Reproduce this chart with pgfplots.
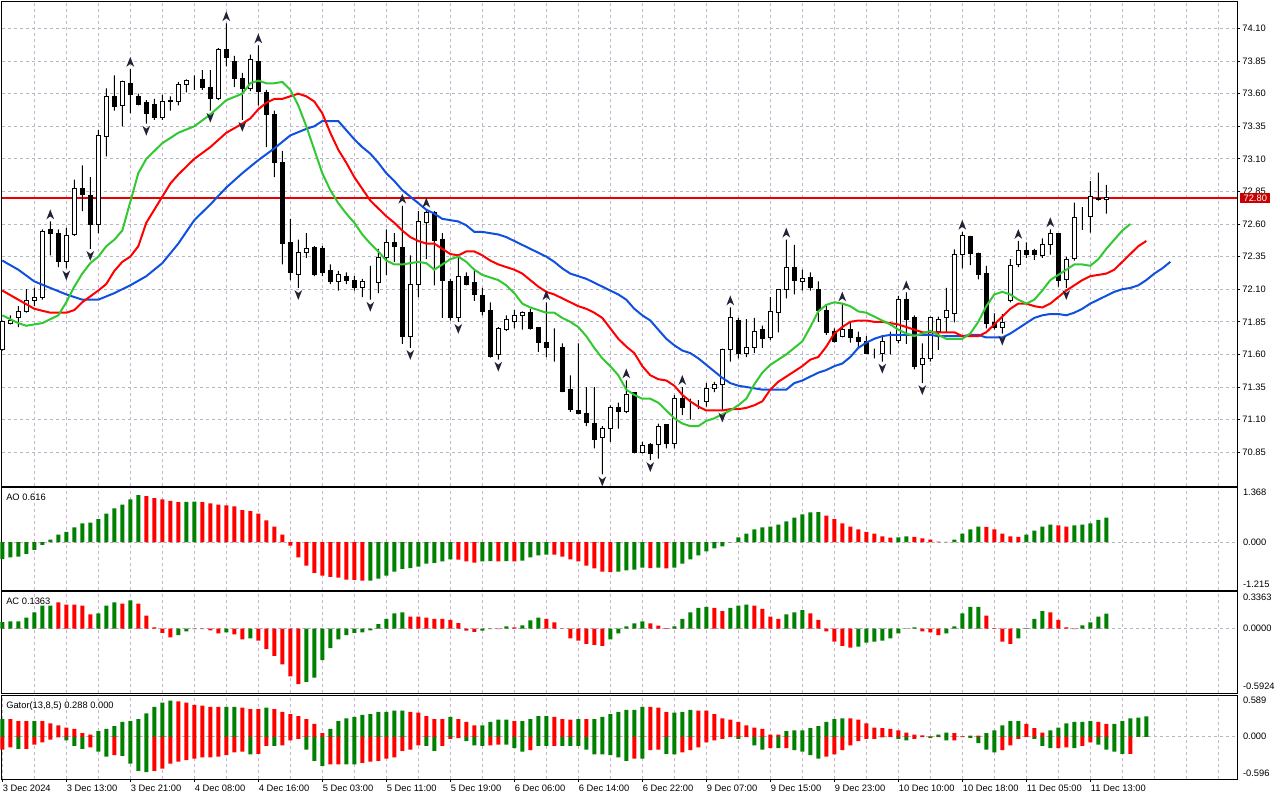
\documentclass[border=0pt]{standalone}
\usepackage{pgfplots}
\usepackage{pgfplotstable}
\pgfplotsset{compat=1.18}
\usepackage{fontspec}
\setmainfont{Liberation Sans}
\definecolor{jawc}{RGB}{16,80,224}
\definecolor{teethc}{RGB}{255,0,0}
\definecolor{lipsc}{RGB}{50,200,50}
\definecolor{hgreen}{RGB}{0,128,0}
\definecolor{hred}{RGB}{255,0,0}
\definecolor{vgrid}{RGB}{200,178,200}
\definecolor{hgrid}{RGB}{178,184,200}
\definecolor{fract}{RGB}{35,35,55}
\definecolor{pricebox}{RGB}{200,0,0}
\definecolor{priceline}{RGB}{235,0,0}

\pgfdeclareplotmark{fup}{%
  \pgfpathmoveto{\pgfqpoint{0pt}{9pt}}%
  \pgfpathlineto{\pgfqpoint{2.9pt}{1.6pt}}%
  \pgfpathlineto{\pgfqpoint{0pt}{3.8pt}}%
  \pgfpathlineto{\pgfqpoint{-2.9pt}{1.6pt}}%
  \pgfpathclose
  \pgfusepathqfill}
\pgfdeclareplotmark{fdn}{%
  \pgfpathmoveto{\pgfqpoint{0pt}{-9pt}}%
  \pgfpathlineto{\pgfqpoint{2.9pt}{-1.6pt}}%
  \pgfpathlineto{\pgfqpoint{0pt}{-3.8pt}}%
  \pgfpathlineto{\pgfqpoint{-2.9pt}{-1.6pt}}%
  \pgfpathclose
  \pgfusepathqfill}

\pgfplotsset{
  panel/.style={
    scale only axis, anchor=south west, width=926.25pt,
    xmin=-0.0375, xmax=154.34,
    axis line style={black, line width=0.75pt},
    clip=false,
    grid=major,
    x grid style={vgrid, line width=0.75pt, dash pattern=on 2.25pt off 2.25pt},
    y grid style={hgrid, line width=0.75pt, dash pattern=on 2.25pt off 2.25pt},
    xtick={4,8,...,152}, xticklabels={},
    major tick length=0pt, minor tick length=0pt,
    tick label style={font=\fontsize{7}{8}\selectfont},
  },
  ovl/.style={
    scale only axis, anchor=south west, width=926.25pt, height=363pt,
    at={(1.5pt,235.5pt)},
    xmin=-0.0375, xmax=154.34, ymin=70.5907, ymax=74.3033,
    hide axis, clip=false,
  },
  hbar/.style={ybar, bar width=3pt, bar shift=0pt, draw=none, fill=#1},
}
\newcommand{\lbl}{\fontsize{7}{8}\selectfont}

\pgfplotstableread{
i o h l c
0 71.64 71.86 71.63 71.85
1 71.84 71.90 71.83 71.86
2 71.88 71.97 71.81 71.93
3 71.93 72.10 71.92 72.01
4 72.01 72.11 71.97 72.04
5 72.04 72.56 72.02 72.54
6 72.56 72.62 72.36 72.53
7 72.53 72.56 72.27 72.31
8 72.31 72.57 72.26 72.51
9 72.52 72.94 72.51 72.87
10 72.87 73.05 72.70 72.83
11 72.82 72.96 72.41 72.60
12 72.60 73.32 72.53 73.28
13 73.27 73.64 73.12 73.58
14 73.58 73.74 73.47 73.50
15 73.51 73.70 73.35 73.69
16 73.68 73.79 73.45 73.59
17 73.58 73.60 73.51 73.52
18 73.53 73.55 73.37 73.45
19 73.52 73.56 73.40 73.42
20 73.42 73.59 73.40 73.54
21 73.54 73.58 73.47 73.55
22 73.54 73.69 73.51 73.67
23 73.67 73.71 73.61 73.70
24 73.70 73.74 73.63 73.70
25 73.71 73.78 73.63 73.65
26 73.65 73.78 73.47 73.56
27 73.56 73.95 73.55 73.94
28 73.94 74.14 73.81 73.88
29 73.85 73.89 73.65 73.72
30 73.72 73.76 73.40 73.64
31 73.64 73.90 73.62 73.86
32 73.85 73.97 73.51 73.62
33 73.61 73.63 73.19 73.44
34 73.44 73.47 72.96 73.07
35 73.07 73.16 72.29 72.45
36 72.46 72.64 72.17 72.23
37 72.21 72.48 72.11 72.38
38 72.38 72.53 72.34 72.41
39 72.42 72.43 72.20 72.21
40 72.41 72.43 72.20 72.23
41 72.24 72.29 72.14 72.16
42 72.16 72.24 72.09 72.21
43 72.20 72.23 72.14 72.17
44 72.17 72.20 72.09 72.11
45 72.11 72.18 72.04 72.16
46 72.16 72.28 72.02 72.16
47 72.15 72.41 72.07 72.34
48 72.34 72.56 72.21 72.46
49 72.46 72.53 72.31 72.43
50 72.42 72.74 71.68 71.74
51 71.74 72.36 71.65 72.14
52 72.14 72.70 72.04 72.62
53 72.61 72.71 72.33 72.69
54 72.69 72.70 72.13 72.47
55 72.48 72.53 71.88 72.17
56 72.16 72.18 71.86 71.88
57 71.88 72.34 71.85 72.20
58 72.20 72.23 72.13 72.14
59 72.15 72.24 72.01 72.06
60 72.05 72.11 71.90 71.93
61 71.94 72.00 71.575 71.585
62 71.60 71.81 71.56 71.80
63 71.79 71.90 71.78 71.87
64 71.85 71.94 71.80 71.90
65 71.90 71.93 71.79 71.92
66 71.92 71.95 71.79 71.80
67 71.81 71.81 71.62 71.69
68 71.69 72.00 71.58 71.65
69 71.65 71.80 71.545 71.65
70 71.65 71.685 71.31 71.315
71 71.33 71.44 71.16 71.18
72 71.17 71.685 71.14 71.15
73 71.15 71.35 71.05 71.08
74 71.07 71.35 70.88 70.95
75 70.96 71.05 70.68 71.03
76 71.03 71.21 70.93 71.19
77 71.195 71.23 71.03 71.16
78 71.16 71.40 71.15 71.29
79 71.31 71.31 70.84 70.85
80 70.85 70.93 70.84 70.90
81 70.91 70.92 70.79 70.84
82 70.91 71.07 70.80 71.05
83 71.06 71.06 70.88 70.92
84 70.92 71.29 70.88 71.26
85 71.26 71.35 71.135 71.19
86 71.22 71.26 71.10 71.22
87 71.22 71.25 71.18 71.22
88 71.24 71.38 71.20 71.34
89 71.34 71.39 71.31 71.37
90 71.37 71.645 71.17 71.64
91 71.64 71.96 71.545 71.88
92 71.86 71.88 71.57 71.61
93 71.61 71.87 71.58 71.655
94 71.655 71.88 71.61 71.775
95 71.79 71.82 71.65 71.72
96 71.73 72.04 71.71 71.93
97 71.92 72.10 71.77 72.10
98 72.10 72.48 72.03 72.27
99 72.27 72.44 72.06 72.17
100 72.16 72.25 72.09 72.18
101 72.19 72.23 72.09 72.11
102 72.10 72.16 71.85 71.94
103 71.94 71.97 71.75 71.77
104 71.775 71.80 71.69 71.70
105 71.735 71.99 71.73 71.79
106 71.79 71.84 71.69 71.73
107 71.73 71.775 71.65 71.70
108 71.70 71.74 71.61 71.61
109 71.61 71.645 71.57 71.61
110 71.61 71.74 71.545 71.70
111 71.70 71.775 71.60 71.70
112 71.705 72.05 71.685 72.02
113 72.02 72.075 71.68 71.87
114 71.88 71.90 71.485 71.51
115 71.52 71.685 71.38 71.57
116 71.57 71.89 71.545 71.88
117 71.775 71.89 71.635 71.87
118 71.885 72.11 71.765 71.935
119 71.915 72.405 71.845 72.37
120 72.37 72.54 72.26 72.51
121 72.505 72.51 72.285 72.375
122 72.375 72.38 72.175 72.21
123 72.22 72.28 71.80 71.84
124 71.845 71.915 71.79 71.81
125 71.81 71.91 71.76 71.845
126 72.01 72.33 72.00 72.285
127 72.29 72.47 72.27 72.40
128 72.40 72.46 72.34 72.37
129 72.395 72.41 72.325 72.37
130 72.355 72.49 72.34 72.44
131 72.44 72.56 72.365 72.53
132 72.525 72.53 72.12 72.17
133 72.175 72.35 72.11 72.33
134 72.335 72.765 72.32 72.65
135 72.655 72.73 72.555 72.655
136 72.655 72.93 72.535 72.81
137 72.79 72.995 72.78 72.795
138 72.79 72.90 72.68 72.80
}\ohlc

\pgfplotstableread{
i v
0 72.32
2 72.25
4 72.16
6 72.11
8 72.06
10 72.02
12 72.02
14 72.07
16 72.13
18 72.20
20 72.30
22 72.45
24 72.63
26 72.75
28 72.88
30 72.99
32 73.09
34 73.18
36 73.28
38 73.33
39 73.35
40 73.39
41 73.39
42 73.39
43 73.32
44 73.25
45 73.19
46 73.14
47 73.07
48 72.99
49 72.93
50 72.86
51 72.81
52 72.76
53 72.71
54 72.68
55 72.64
56 72.63
57 72.62
58 72.59
59 72.54
60 72.54
61 72.53
62 72.52
63 72.50
64 72.47
65 72.44
66 72.41
67 72.38
68 72.35
69 72.31
70 72.26
71 72.22
72 72.20
73 72.18
74 72.15
75 72.12
76 72.09
77 72.06
78 72.02
79 71.95
80 71.90
81 71.86
82 71.79
83 71.72
84 71.67
85 71.63
86 71.61
87 71.57
88 71.52
89 71.47
90 71.42
91 71.38
92 71.36
93 71.35
94 71.34
95 71.33
96 71.33
97 71.33
98 71.33
99 71.38
100 71.40
101 71.43
102 71.46
103 71.48
104 71.51
105 71.53
106 71.58
107 71.65
108 71.69
109 71.72
110 71.74
111 71.75
112 71.75
113 71.75
114 71.75
115 71.75
116 71.75
117 71.74
118 71.74
119 71.74
120 71.74
121 71.75
122 71.75
123 71.73
124 71.73
125 71.73
126 71.76
127 71.80
128 71.84
129 71.88
130 71.90
131 71.91
132 71.91
133 71.90
134 71.92
135 71.95
136 71.99
137 72.02
138 72.05
139 72.08
140 72.10
141 72.11
142 72.13
143 72.17
144 72.22
145 72.26
146 72.31
}\jaw

\pgfplotstableread{
i v
0 72.09
2 72.02
4 71.95
6 71.92
8 71.92
9 71.94
10 72.00
12 72.09
13 72.14
14 72.24
15 72.31
16 72.35
17 72.43
18 72.61
19 72.71
20 72.81
21 72.91
22 72.98
24 73.10
26 73.19
28 73.30
30 73.37
31 73.41
32 73.48
33 73.53
34 73.56
35 73.56
36 73.58
37 73.60
38 73.58
39 73.54
40 73.45
41 73.30
42 73.17
43 73.07
44 72.96
45 72.87
46 72.78
47 72.72
48 72.66
49 72.61
50 72.55
51 72.50
52 72.47
53 72.45
54 72.45
55 72.41
56 72.37
57 72.36
58 72.39
59 72.39
60 72.36
61 72.32
62 72.29
63 72.27
64 72.25
65 72.22
66 72.17
67 72.12
68 72.08
69 72.06
70 72.03
71 72.00
72 71.97
73 71.95
74 71.92
75 71.88
76 71.80
77 71.72
78 71.66
79 71.61
80 71.51
81 71.44
82 71.41
83 71.40
84 71.36
85 71.29
86 71.24
87 71.20
88 71.17
89 71.17
90 71.17
91 71.18
92 71.18
93 71.19
94 71.21
95 71.24
96 71.33
97 71.39
98 71.43
99 71.47
100 71.51
101 71.56
102 71.58
103 71.66
104 71.76
105 71.81
106 71.85
107 71.86
108 71.86
109 71.85
110 71.85
111 71.84
112 71.83
113 71.81
114 71.79
115 71.77
116 71.77
117 71.77
118 71.77
119 71.77
120 71.74
121 71.74
122 71.74
123 71.77
124 71.83
125 71.89
126 71.95
127 71.99
128 71.99
129 71.97
130 71.96
131 71.99
132 72.04
133 72.09
134 72.13
135 72.17
136 72.20
137 72.21
138 72.22
139 72.25
140 72.31
141 72.37
142 72.43
143 72.47
}\teeth

\pgfplotstableread{
i v
0 71.90
1 71.87
2 71.84
3 71.82
4 71.83
5 71.84
6 71.87
7 71.90
8 72.00
9 72.12
10 72.22
11 72.30
12 72.35
13 72.43
14 72.48
15 72.55
16 72.77
17 72.99
18 73.10
19 73.16
20 73.22
21 73.26
22 73.30
24 73.35
26 73.44
28 73.55
30 73.60
31 73.68
32 73.70
33 73.68
34 73.68
35 73.69
36 73.63
37 73.51
38 73.35
39 73.17
40 72.99
41 72.86
42 72.76
43 72.68
44 72.61
45 72.52
46 72.45
47 72.39
48 72.32
49 72.29
50 72.29
51 72.30
52 72.31
53 72.30
54 72.25
55 72.29
56 72.33
57 72.35
58 72.31
59 72.25
60 72.21
61 72.19
62 72.17
63 72.13
64 72.07
65 71.99
66 71.96
67 71.94
68 71.92
69 71.92
70 71.88
71 71.85
72 71.81
73 71.74
74 71.65
75 71.57
76 71.51
77 71.44
78 71.33
79 71.29
80 71.26
81 71.26
82 71.23
83 71.17
84 71.11
85 71.07
86 71.05
87 71.05
88 71.09
89 71.11
90 71.14
91 71.17
92 71.21
93 71.26
94 71.37
95 71.46
96 71.52
97 71.56
98 71.60
99 71.65
100 71.70
101 71.81
102 71.93
103 71.98
104 72.00
105 71.99
106 71.97
107 71.93
108 71.92
109 71.89
110 71.86
111 71.83
112 71.79
113 71.76
114 71.74
115 71.76
116 71.78
117 71.75
118 71.72
119 71.72
120 71.72
121 71.76
122 71.85
123 71.97
124 72.06
125 72.08
126 72.06
127 72.02
128 71.99
129 72.02
130 72.09
131 72.17
132 72.21
133 72.25
134 72.29
135 72.29
136 72.28
137 72.33
138 72.41
139 72.48
140 72.55
141 72.60
}\lips

\pgfplotstableread{
i v
6 72.62
16 73.79
28 74.14
32 73.97
50 72.74
53 72.71
68 72.00
78 71.40
85 71.35
91 71.96
98 72.48
105 71.99
113 72.075
120 72.54
127 72.47
131 72.56
}\fractup

\pgfplotstableread{
i v
8 72.26
11 72.41
18 73.37
26 73.47
30 73.40
37 72.11
46 72.02
51 71.65
57 71.85
62 71.56
75 70.68
81 70.79
90 71.17
110 71.545
115 71.38
125 71.76
133 72.11
}\fractdn

\pgfplotstableread{
i v g
0 -0.43 1
1 -0.39 1
2 -0.37 1
3 -0.30 1
4 -0.20 1
5 -0.07 1
6 0.06 1
7 0.19 1
8 0.26 1
9 0.37 1
10 0.47 1
11 0.49 1
12 0.58 1
13 0.72 1
14 0.85 1
15 0.95 1
16 1.08 1
17 1.19 1
18 1.16 0
19 1.11 0
20 1.08 0
21 1.04 0
22 1.01 0
23 1.015 1
24 1.02 1
25 1.01 0
26 0.98 0
27 0.95 0
28 0.93 0
29 0.90 0
30 0.81 0
31 0.78 0
32 0.72 0
33 0.55 0
34 0.39 0
35 0.19 0
36 -0.09 0
37 -0.39 0
38 -0.60 0
39 -0.78 0
40 -0.85 0
41 -0.88 0
42 -0.90 0
43 -0.95 0
44 -0.96 0
45 -0.98 0
46 -0.975 1
47 -0.93 1
48 -0.85 1
49 -0.75 1
50 -0.68 1
51 -0.66 1
52 -0.62 1
53 -0.55 1
54 -0.53 1
55 -0.49 1
56 -0.44 1
57 -0.445 0
58 -0.49 0
59 -0.52 0
60 -0.49 1
61 -0.485 1
62 -0.49 0
63 -0.485 1
64 -0.49 0
65 -0.47 1
66 -0.39 1
67 -0.34 1
68 -0.32 1
69 -0.32 0
70 -0.37 0
71 -0.44 0
72 -0.49 0
73 -0.60 0
74 -0.67 0
75 -0.75 0
76 -0.76 0
77 -0.75 1
78 -0.72 1
79 -0.70 1
80 -0.65 1
81 -0.66 0
82 -0.65 1
83 -0.67 0
84 -0.65 1
85 -0.55 1
86 -0.44 1
87 -0.34 1
88 -0.24 1
89 -0.16 1
90 -0.11 1
91 -0.01 1
92 0.12 1
93 0.21 1
94 0.32 1
95 0.37 1
96 0.39 1
97 0.44 1
98 0.52 1
99 0.62 1
100 0.70 1
101 0.75 1
102 0.76 1
103 0.67 0
104 0.58 0
105 0.47 0
106 0.39 0
107 0.32 0
108 0.26 0
109 0.21 0
110 0.14 0
111 0.11 0
112 0.115 1
113 0.14 1
114 0.13 0
115 0.09 0
116 0.06 0
117 0.01 0
118 0.005 0
119 0.06 1
120 0.21 1
121 0.32 1
122 0.39 1
123 0.385 0
124 0.32 0
125 0.21 0
126 0.14 0
127 0.13 0
128 0.19 1
129 0.29 1
130 0.39 1
131 0.44 1
132 0.42 0
133 0.39 0
134 0.42 1
135 0.44 1
136 0.47 1
137 0.56 1
138 0.616 1
}\aotab

\pgfplotstableread{
i v g
0 0.06 1
1 0.066 1
2 0.066 1
3 0.10 1
4 0.15 1
5 0.21 1
6 0.21 1
7 0.24 0
8 0.22 0
9 0.22 0
10 0.21 0
11 0.13 0
12 0.14 1
13 0.21 1
14 0.24 1
15 0.23 0
16 0.26 1
17 0.23 0
18 0.12 0
19 0.01 0
20 -0.04 0
21 -0.08 0
22 -0.06 1
23 -0.025 1
24 -0.006 1
25 -0.006 0
26 -0.016 0
27 -0.044 0
28 -0.034 1
29 -0.053 0
30 -0.10 0
31 -0.09 1
32 -0.11 0
33 -0.19 0
34 -0.25 0
35 -0.33 0
36 -0.44 0
37 -0.51 0
38 -0.49 1
39 -0.45 1
40 -0.29 1
41 -0.18 1
42 -0.10 1
43 -0.06 1
44 -0.04 1
45 -0.034 1
46 -0.016 1
47 0.04 1
48 0.09 1
49 0.14 1
50 0.15 1
51 0.11 0
52 0.11 0
53 0.10 0
54 0.09 0
55 0.09 0
56 0.08 0
57 0.05 0
58 -0.02 0
59 -0.03 0
60 -0.02 1
61 -0.006 1
62 -0.006 0
63 0.02 1
64 0.01 0
65 0.03 1
66 0.075 1
67 0.10 1
68 0.09 0
69 0.056 0
70 -0.003 0
71 -0.09 0
72 -0.11 0
73 -0.14 0
74 -0.15 0
75 -0.16 0
76 -0.10 1
77 -0.044 1
78 0.02 1
79 0.047 1
80 0.066 1
81 0.047 0
82 0.028 0
83 0.003 0
84 0.02 1
85 0.09 1
86 0.15 1
87 0.19 1
88 0.20 1
89 0.19 0
90 0.16 0
91 0.19 1
92 0.21 1
93 0.22 1
94 0.21 0
95 0.18 0
96 0.11 0
97 0.09 0
98 0.13 1
99 0.15 1
100 0.17 1
101 0.14 0
102 0.08 0
103 -0.025 0
104 -0.12 0
105 -0.16 0
106 -0.175 0
107 -0.165 1
108 -0.13 1
109 -0.12 1
110 -0.11 1
111 -0.09 1
112 -0.044 1
113 -0.003 1
114 0.01 1
115 -0.025 0
116 -0.034 0
117 -0.06 0
118 -0.044 1
119 0.02 1
120 0.14 1
121 0.20 1
122 0.20 1
123 0.12 0
124 0.003 0
125 -0.12 0
126 -0.14 0
127 -0.09 1
128 0.003 1
129 0.09 1
130 0.16 1
131 0.15 0
132 0.08 0
133 0.01 0
134 -0.006 0
135 0.03 1
136 0.056 1
137 0.11 1
138 0.1363 1
}\actab

\pgfplotstableread{
i up ug lo lg
0 0.25 1 -0.18 0
1 0.25 0 -0.15 0
2 0.22 0 -0.17 1
3 0.22 0 -0.17 0
4 0.22 1 -0.11 0
5 0.22 0 -0.08 0
6 0.19 0 -0.04 0
7 0.16 0 -0.01 0
8 0.13 0 -0.05 1
9 0.11 0 -0.13 1
10 0.05 0 -0.17 1
11 0.03 0 -0.15 0
12 0.08 1 -0.21 1
13 0.11 1 -0.28 1
14 0.15 1 -0.26 0
15 0.21 1 -0.27 1
16 0.22 1 -0.38 1
17 0.25 1 -0.48 1
18 0.33 1 -0.50 1
19 0.42 1 -0.48 0
20 0.48 1 -0.45 0
21 0.51 1 -0.38 0
22 0.50 0 -0.35 0
23 0.48 0 -0.33 0
24 0.45 0 -0.31 0
25 0.44 0 -0.29 0
26 0.42 0 -0.29 0
27 0.42 0 -0.28 0
28 0.42 1 -0.26 0
29 0.42 1 -0.22 0
30 0.41 0 -0.21 0
31 0.39 0 -0.25 1
32 0.39 0 -0.24 0
33 0.41 1 -0.13 0
34 0.39 0 -0.13 1
35 0.35 0 -0.12 0
36 0.32 0 -0.05 0
37 0.29 0 -0.03 0
38 0.25 0 -0.18 1
39 0.18 0 -0.34 1
40 0.05 0 -0.41 1
41 0.11 1 -0.39 0
42 0.22 1 -0.39 0
43 0.26 1 -0.39 1
44 0.28 1 -0.39 1
45 0.31 1 -0.37 0
46 0.32 1 -0.35 0
47 0.35 1 -0.34 0
48 0.35 1 -0.31 0
49 0.37 1 -0.29 0
50 0.37 1 -0.20 0
51 0.35 0 -0.18 0
52 0.34 0 -0.12 0
53 0.29 0 -0.13 1
54 0.25 0 -0.20 1
55 0.25 0 -0.13 0
56 0.28 1 -0.03 0
57 0.25 0 -0.02 0
58 0.21 0 -0.06 1
59 0.16 0 -0.12 1
60 0.16 1 -0.13 1
61 0.21 1 -0.12 0
62 0.24 1 -0.11 0
63 0.24 1 -0.11 1
64 0.22 0 -0.16 1
65 0.22 1 -0.21 1
66 0.25 1 -0.19 0
67 0.29 1 -0.13 1
68 0.29 1 -0.13 1
69 0.28 0 -0.13 0
70 0.25 0 -0.13 1
71 0.24 0 -0.13 1
72 0.25 1 -0.13 1
73 0.25 0 -0.18 1
74 0.25 1 -0.25 1
75 0.28 1 -0.25 1
76 0.32 1 -0.26 1
77 0.35 1 -0.29 1
78 0.38 1 -0.34 1
79 0.38 1 -0.31 0
80 0.42 1 -0.31 1
81 0.42 0 -0.19 0
82 0.41 0 -0.18 0
83 0.35 0 -0.24 1
84 0.34 1 -0.25 1
85 0.35 1 -0.22 0
86 0.38 1 -0.19 0
87 0.37 0 -0.15 0
88 0.37 0 -0.08 0
89 0.32 0 -0.05 0
90 0.26 0 -0.03 0
91 0.24 0 -0.005 0
92 0.21 0 -0.03 1
93 0.16 0 -0.005 0
94 0.13 0 -0.12 1
95 0.11 0 -0.18 1
96 0.03 0 -0.16 0
97 0.03 0 -0.16 1
98 0.08 1 -0.16 0
99 0.09 1 -0.19 1
100 0.09 1 -0.21 1
101 0.12 1 -0.26 1
102 0.15 1 -0.31 1
103 0.21 1 -0.28 0
104 0.25 1 -0.25 0
105 0.26 1 -0.19 0
106 0.26 0 -0.12 0
107 0.24 0 -0.06 0
108 0.19 0 -0.03 0
109 0.13 0 -0.03 0
110 0.12 0 -0.01 0
111 0.11 0 -0.005 0
112 0.09 0 -0.03 1
113 0.06 0 -0.05 1
114 0.03 0 -0.03 0
115 0.02 0 -0.005 0
116 0.005 0 -0.02 1
117 0.03 1 -0.005 0
118 0.06 1 -0.05 1
119 0.05 0 -0.05 0
120 0.005 0 -0.005 0
121 0.015 1 -0.015 1
122 0.015 0 -0.09 1
123 0.05 1 -0.18 1
124 0.09 1 -0.22 1
125 0.16 1 -0.19 0
126 0.22 1 -0.12 0
127 0.22 1 -0.03 0
128 0.18 0 -0.005 0
129 0.12 0 -0.03 1
130 0.06 0 -0.13 1
131 0.09 1 -0.16 1
132 0.13 1 -0.16 0
133 0.19 1 -0.15 0
134 0.21 1 -0.16 1
135 0.21 1 -0.13 0
136 0.22 1 -0.08 0
137 0.21 0 -0.11 1
138 0.18 0 -0.18 1
139 0.18 1 -0.21 1
140 0.22 1 -0.24 1
141 0.26 1 -0.24 0
142 0.27 1 0 0
143 0.288 1 0 0
}\gatortab

\begin{document}
\begin{tikzpicture}
\useasboundingbox (0pt,0pt) rectangle (960pt,600pt);

% ---------------- main price panel (frame, grid, ticks) ----------------
\begin{axis}[panel, at={(1.5pt,235.5pt)}, height=363pt,
  ymin=70.5907, ymax=74.3033,
  ytick={70.85,71.10,71.35,71.60,71.85,72.10,72.35,72.60,72.85,73.10,73.35,73.60,73.85,74.10},
  yticklabels={70.85,71.10,71.35,71.60,71.85,72.10,72.35,72.60,72.85,73.10,73.35,73.60,73.85,74.10},
  ytick pos=right, yticklabel pos=right,
  tick align=outside, major tick length=2.25pt,
  xtick style={draw=none},
  ytick style={black, line width=0.75pt},
  yticklabel style={anchor=west, inner sep=0pt},
  yticklabel shift=1.6pt,
]
\addplot[draw=priceline, line width=0.9pt, mark=none] coordinates {(-0.0375,72.80) (154.34,72.80)};
\coordinate (pricept) at (axis cs:154.34,72.80);
\end{axis}

% wicks
\begin{axis}[ovl, ybar stacked, bar width=0.75pt]
\addplot[draw=none, fill=none] table[x=i, y=l]{\ohlc};
\addplot[draw=none, fill=black] table[x=i, y expr={\thisrow{h}-\thisrow{l}}]{\ohlc};
\end{axis}

% bodies
\begin{axis}[ovl, ybar stacked, bar width=3pt]
\addplot[draw=none, fill=none] table[x=i, y expr={min(\thisrow{o},\thisrow{c})}]{\ohlc};
\addplot[draw=black, fill=white, line width=0.75pt] table[x=i, y expr={max(\thisrow{c}-\thisrow{o},0)}]{\ohlc};
\addplot[draw=black, fill=black, line width=0.75pt] table[x=i, y expr={max(\thisrow{o}-\thisrow{c},0)}]{\ohlc};
\end{axis}

% alligator and fractals
\begin{axis}[ovl]
\addplot[jawc, line width=1.5pt, mark=none] table[x=i, y=v]{\jaw};
\addplot[teethc, line width=1.5pt, mark=none] table[x=i, y=v]{\teeth};
\addplot[lipsc, line width=1.5pt, mark=none] table[x=i, y=v]{\lips};
\addplot[only marks, mark=fup, color=fract, fill=fract] table[x=i, y=v]{\fractup};
\addplot[only marks, mark=fdn, color=fract, fill=fract] table[x=i, y=v]{\fractdn};
\end{axis}
\node[fill=pricebox, text=white, anchor=west, inner sep=0pt, minimum width=22.5pt, minimum height=7.5pt, font=\lbl] at ([xshift=2.25pt]pricept) {72.80};

% ---------------- AO ----------------
\begin{axis}[panel, at={(1.5pt,157.5pt)}, height=76.5pt,
  ymin=-1.215, ymax=1.368, ytick={0}, yticklabels={}]
\addplot[hbar=hgreen] table[x=i, y expr={\thisrow{v}*\thisrow{g}}]{\aotab};
\addplot[hbar=hred] table[x=i, y expr={\thisrow{v}*(1-\thisrow{g})}]{\aotab};
\node[anchor=north west, inner sep=0pt, xshift=3pt, yshift=-4pt, font=\lbl] at (rel axis cs:0,1) {AO 0.616};
\node[anchor=west, inner sep=0pt, xshift=4.3pt, yshift=-3.2pt, font=\lbl] at (rel axis cs:1,1) {1.368};
\node[anchor=west, inner sep=0pt, xshift=4.3pt, font=\lbl] at (axis cs:154.34,0) {0.000};
\node[anchor=west, inner sep=0pt, xshift=4.3pt, yshift=4.3pt, font=\lbl] at (rel axis cs:1,0) {-1.215};
\end{axis}

% ---------------- AC ----------------
\begin{axis}[panel, at={(1.5pt,80.25pt)}, height=75.75pt,
  ymin=-0.5924, ymax=0.3363, ytick={0}, yticklabels={}]
\addplot[hbar=hgreen] table[x=i, y expr={\thisrow{v}*\thisrow{g}}]{\actab};
\addplot[hbar=hred] table[x=i, y expr={\thisrow{v}*(1-\thisrow{g})}]{\actab};
\node[anchor=north west, inner sep=0pt, xshift=3pt, yshift=-4.5pt, font=\lbl] at (rel axis cs:0,1) {AC 0.1363};
\node[anchor=west, inner sep=0pt, xshift=4.3pt, yshift=-4pt, font=\lbl] at (rel axis cs:1,1) {0.3363};
\node[anchor=west, inner sep=0pt, xshift=4.3pt, font=\lbl] at (axis cs:154.34,0) {0.0000};
\node[anchor=west, inner sep=0pt, xshift=4.3pt, yshift=4.7pt, font=\lbl] at (rel axis cs:1,0) {-0.5924};
\end{axis}

% ---------------- Gator ----------------
\begin{axis}[panel, at={(1.5pt,15.75pt)}, height=63pt,
  ymin=-0.596, ymax=0.589, ytick={0}, yticklabels={},
  xtick={0,8,...,136},
  xticklabels={3 Dec 2024,3 Dec 13:00,3 Dec 21:00,4 Dec 08:00,4 Dec 16:00,5 Dec 03:00,5 Dec 11:00,5 Dec 19:00,6 Dec 06:00,6 Dec 14:00,6 Dec 22:00,9 Dec 07:00,9 Dec 15:00,9 Dec 23:00,10 Dec 10:00,10 Dec 18:00,11 Dec 05:00,11 Dec 13:00},
  xtick pos=bottom, tick align=outside, major tick length=2.25pt,
  xtick style={black, line width=0.75pt},
  ytick style={draw=none},
  xticklabel style={anchor=north west, inner sep=0pt, xshift=0.3pt},
  xticklabel shift=2pt,
  extra x ticks={4,12,20,28,36,44,52,60,68,76,84,92,100,108,116,124,132,140,144,148,152},
  extra x tick labels={},
  extra x tick style={grid=major, major tick length=0pt, xticklabel style={opacity=0}},
]
\addplot[hbar=hgreen] table[x=i, y expr={\thisrow{up}*\thisrow{ug}}]{\gatortab};
\addplot[hbar=hred] table[x=i, y expr={\thisrow{up}*(1-\thisrow{ug})}]{\gatortab};
\addplot[hbar=hgreen] table[x=i, y expr={\thisrow{lo}*\thisrow{lg}}]{\gatortab};
\addplot[hbar=hred] table[x=i, y expr={\thisrow{lo}*(1-\thisrow{lg})}]{\gatortab};
\node[anchor=north west, inner sep=0pt, xshift=3pt, yshift=-4.5pt, font=\lbl] at (rel axis cs:0,1) {Gator(13,8,5) 0.288 0.000};
\node[anchor=west, inner sep=0pt, xshift=4.3pt, yshift=-3.75pt, font=\lbl] at (rel axis cs:1,1) {0.589};
\node[anchor=west, inner sep=0pt, xshift=4.3pt, font=\lbl] at (axis cs:154.34,0) {0.000};
\node[anchor=west, inner sep=0pt, xshift=4.3pt, yshift=4.3pt, font=\lbl] at (rel axis cs:1,0) {-0.596};
\end{axis}
\end{tikzpicture}
\end{document}
